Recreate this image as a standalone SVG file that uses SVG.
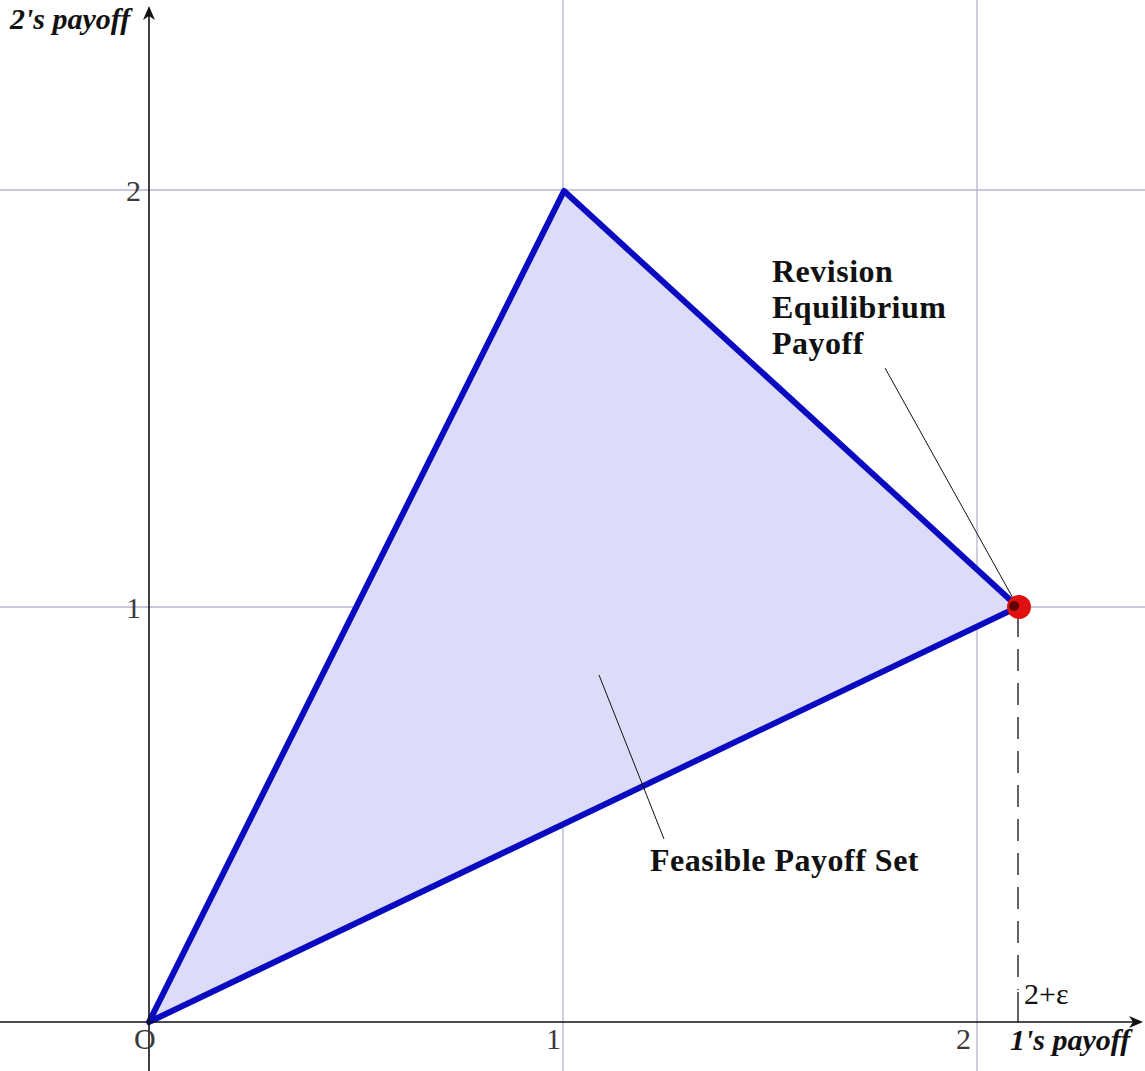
<svg xmlns="http://www.w3.org/2000/svg" width="1145" height="1071" viewBox="0 0 1145 1071">
<style>
.grid{stroke:#b4b4d2;stroke-width:1.3;fill:none}
.axis{stroke:#111;stroke-width:1.6;fill:none}
.tick{font-family:"Liberation Serif",serif;font-size:30px;fill:#3a3a3a}
.lbl{font-family:"Liberation Serif",serif;font-weight:bold;font-size:32px;fill:#111;letter-spacing:0.5px}
.ax{font-family:"Liberation Serif",serif;font-weight:bold;font-style:italic;font-size:30px;fill:#111}
.lead{stroke:#111;stroke-width:1;fill:none}
</style>
<defs>
<marker id="ah" markerWidth="14" markerHeight="12" refX="12" refY="6" orient="auto" markerUnits="userSpaceOnUse">
<path d="M0,0 L14,6 L0,12 L4,6 Z" fill="#111"/>
</marker>
</defs>
<rect width="1145" height="1071" fill="#fff"/>
<g id="grid">
<line class="grid" x1="0" y1="190" x2="1145" y2="190"/>
<line class="grid" x1="0" y1="607" x2="1145" y2="607"/>
<line class="grid" x1="563" y1="0" x2="563" y2="1071"/>
<line class="grid" x1="977" y1="0" x2="977" y2="1071"/>
</g>
<g id="feasible-set">
<polygon points="149,1022 564,191 1018,607" fill="#dcdcf8" stroke="#0a0ac0" stroke-width="6" stroke-linejoin="round"/>
</g>
<g id="axes">
<line class="axis" x1="149" y1="1071" x2="149" y2="8" marker-end="url(#ah)"/>
<line class="axis" x1="0" y1="1022" x2="1141" y2="1022" marker-end="url(#ah)"/>
</g>
<g id="connectors">
<line class="lead" x1="885" y1="368" x2="1014" y2="600"/>
<line class="lead" x1="599" y1="675" x2="664" y2="839"/>
<line x1="1018" y1="615" x2="1018" y2="990" stroke="#111" stroke-width="1.3" stroke-dasharray="22,12"/>
<line x1="1018" y1="992" x2="1018" y2="1022" stroke="#111" stroke-width="1.3"/>
</g>
<g id="point">
<circle cx="1019" cy="607" r="12" fill="#e01010"/>
<circle cx="1014" cy="606" r="5" fill="#400000" opacity="0.8"/>
</g>
<g id="labels">
<text class="tick" x="126" y="201">2</text>
<text class="tick" x="126" y="618">1</text>
<text class="tick" x="134" y="1049">O</text>
<text class="tick" x="546" y="1049">1</text>
<text class="tick" x="956" y="1049">2</text>
<text class="ax" x="10" y="29">2's payoff</text>
<text class="ax" x="1010" y="1050">1's payoff</text>
<text class="tick" x="1024" y="1004" style="font-size:30px;fill:#111">2+ε</text>
<text class="lbl" x="772" y="282">Revision</text>
<text class="lbl" x="772" y="318">Equilibrium</text>
<text class="lbl" x="772" y="354">Payoff</text>
<text class="lbl" x="650" y="871">Feasible Payoff Set</text>
</g>
</svg>
